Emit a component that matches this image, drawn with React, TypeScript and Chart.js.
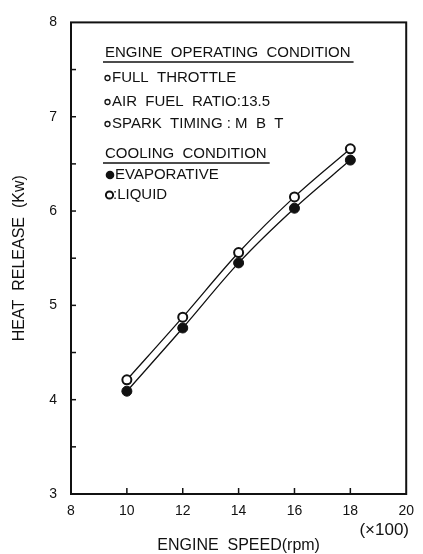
import React, { useEffect, useRef } from 'react';
import { Chart, registerables } from 'chart.js';

Chart.register(...registerables);

// ---- data ----
const engineSpeeds = [10, 12, 14, 16, 18]; // x100 rpm
const liquidHeat = [4.21, 4.875, 5.56, 6.15, 6.66]; // kW
const evaporativeHeat = [4.09, 4.76, 5.45, 6.03, 6.54]; // kW
const xMin = 8;
const xMax = 20;
const xStep = 2;
const yMin = 3;
const yMax = 8;
const yStep = 0.5;

const conditionTitle = 'ENGINE  OPERATING  CONDITION';
const conditionItems = ['FULL  THROTTLE', 'AIR  FUEL  RATIO:13.5', 'SPARK  TIMING : M  B  T'];
const coolingTitle = 'COOLING  CONDITION';
const evaporativeLabel = 'EVAPORATIVE';
const liquidLabel = ':LIQUID';
const xTitle = 'ENGINE  SPEED(rpm)';
const yTitle = 'HEAT  RELEASE  (Kw)';
const xUnitNote = '(×100)';

const FONT = '"Liberation Sans", Arial, Helvetica, sans-serif';
const INK = '#111111';

const framePlugin = {
  id: 'frameAndNotes',
  afterDraw(chart: any) {
    const { ctx, chartArea } = chart;
    const { left, right, top, bottom } = chartArea;
    ctx.save();
    ctx.strokeStyle = INK;
    ctx.fillStyle = INK;

    // frame
    ctx.lineWidth = 2;
    ctx.strokeRect(left, top, right - left, bottom - top);

    // inward tick marks
    ctx.lineWidth = 1.5;
    const ys = chart.scales.y;
    ys.ticks.forEach((t: any) => {
      if (t.value <= yMin || t.value >= yMax) return;
      const p = ys.getPixelForValue(t.value);
      ctx.beginPath();
      ctx.moveTo(left, p);
      ctx.lineTo(left + 5, p);
      ctx.stroke();
    });
    const xs = chart.scales.x;
    xs.ticks.forEach((t: any) => {
      if (t.value <= xMin || t.value >= xMax) return;
      const p = xs.getPixelForValue(t.value);
      ctx.beginPath();
      ctx.moveTo(p, bottom);
      ctx.lineTo(p, bottom - 6);
      ctx.stroke();
    });

    // unit note under the x axis
    ctx.font = `17px ${FONT}`;
    ctx.textAlign = 'center';
    ctx.textBaseline = 'middle';
    ctx.fillText(xUnitNote, right - 22, 530);

    // annotation block
    const x0 = left + 34;
    ctx.textAlign = 'left';
    ctx.font = `15px ${FONT}`;
    ctx.fillText(conditionTitle, x0, 53);
    let w = ctx.measureText(conditionTitle).width;
    ctx.lineWidth = 1.4;
    ctx.beginPath();
    ctx.moveTo(x0 - 2, 62);
    ctx.lineTo(x0 + w + 3, 62);
    ctx.stroke();

    const itemYs = [78, 102, 124];
    conditionItems.forEach((txt, i) => {
      const y = itemYs[i];
      ctx.lineWidth = 1.3;
      ctx.beginPath();
      ctx.arc(x0 + 2.5, y, 2.5, 0, Math.PI * 2);
      ctx.stroke();
      ctx.fillText(txt, x0 + 7, y);
    });

    ctx.fillText(coolingTitle, x0, 154);
    w = ctx.measureText(coolingTitle).width;
    ctx.lineWidth = 1.4;
    ctx.beginPath();
    ctx.moveTo(x0 - 2, 163);
    ctx.lineTo(x0 + w + 3, 163);
    ctx.stroke();

    ctx.beginPath();
    ctx.arc(x0 + 5, 175, 4.3, 0, Math.PI * 2);
    ctx.fill();
    ctx.fillText(evaporativeLabel, x0 + 10, 175);

    ctx.lineWidth = 2;
    ctx.beginPath();
    ctx.arc(x0 + 4.5, 195, 3.6, 0, Math.PI * 2);
    ctx.stroke();
    ctx.fillText(liquidLabel, x0 + 8, 195);

    ctx.restore();
  },
};

export default function App() {
  const canvasRef = useRef<HTMLCanvasElement | null>(null);

  useEffect(() => {
    document.body.style.margin = '0';
    const canvas = canvasRef.current;
    if (!canvas) return;
    const chart = new Chart(canvas, {
      type: 'line',
      data: {
        datasets: [
          {
            label: 'Liquid',
            data: engineSpeeds.map((s, i) => ({ x: s, y: liquidHeat[i] })),
            borderColor: INK,
            borderWidth: 1.3,
            backgroundColor: '#ffffff',
            pointBackgroundColor: '#ffffff',
            pointBorderColor: INK,
            pointBorderWidth: 2,
            pointRadius: 4.5,
            cubicInterpolationMode: 'monotone',
            fill: false,
          },
          {
            label: 'Evaporative',
            data: engineSpeeds.map((s, i) => ({ x: s, y: evaporativeHeat[i] })),
            borderColor: INK,
            borderWidth: 1.3,
            backgroundColor: INK,
            pointBackgroundColor: INK,
            pointBorderColor: INK,
            pointBorderWidth: 1,
            pointRadius: 5,
            cubicInterpolationMode: 'monotone',
            fill: false,
          },
        ],
      },
      options: {
        animation: false,
        responsive: false,
        devicePixelRatio: 1,
        layout: { padding: { top: 14, right: 13, left: 0, bottom: 0 } },
        plugins: {
          legend: { display: false },
          tooltip: { enabled: false },
        },
        scales: {
          x: {
            type: 'linear',
            min: xMin,
            max: xMax,
            grid: { display: false, drawTicks: false },
            border: { display: false },
            ticks: {
              stepSize: xStep,
              color: INK,
              padding: 9,
              font: { family: FONT, size: 14 },
              maxRotation: 0,
              autoSkip: false,
            },
            title: {
              display: true,
              text: xTitle,
              color: INK,
              font: { family: FONT, size: 16, lineHeight: 1 },
              padding: { top: 0, bottom: 0 },
            },
            afterFit: (scale: any) => {
              scale.height = 60;
            },
          },
          y: {
            type: 'linear',
            min: yMin,
            max: yMax,
            grid: { display: false, drawTicks: false },
            border: { display: false },
            ticks: {
              stepSize: yStep,
              color: INK,
              padding: 14,
              autoSkip: false,
              font: { family: FONT, size: 14 },
              callback: (v: any) => (Number.isInteger(v) ? String(v) : ''),
            },
            title: {
              display: true,
              text: yTitle,
              color: INK,
              font: { family: FONT, size: 16, lineHeight: 1.2 },
              padding: { top: 10, bottom: 0 },
            },
            afterFit: (scale: any) => {
              scale.width = 71;
            },
          },
        },
      },
      plugins: [framePlugin],
    } as any);
    return () => chart.destroy();
  }, []);

  return (
    <div style={{ width: 423, height: 554, background: '#ffffff' }}>
      <canvas ref={canvasRef} width={423} height={554} style={{ display: 'block' }} />
    </div>
  );
}
